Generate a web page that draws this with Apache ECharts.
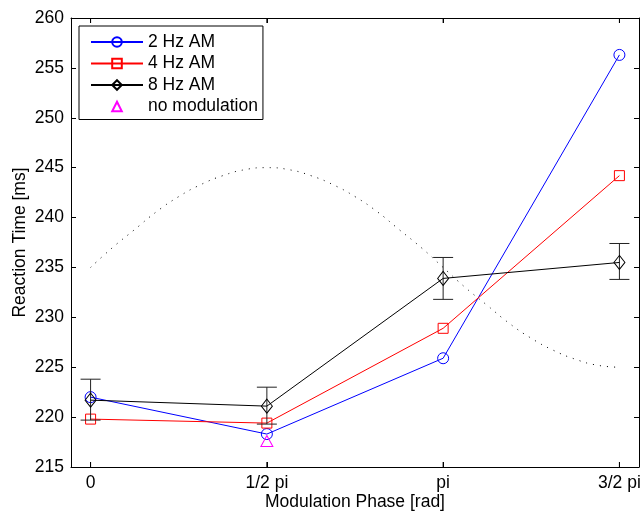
<!DOCTYPE html>
<html>
<head>
<meta charset="utf-8">
<script src="https://cdn.jsdelivr.net/npm/echarts@6/dist/echarts.min.js"></script>
<style>html,body{margin:0;padding:0;background:#fff}#c{width:644px;height:512px}</style>
</head>
<body>
<div id="c"></div>
<script>
// x positions in units of pi/2
const phaseLabels = ['0', '1/2 pi', 'pi', '3/2 pi'];
const phasePos = [0, 1, 2, 3];
const hz2 = [222.0, 218.3, 225.9, 256.3];
const hz4 = [219.8, 219.4, 228.9, 244.2];
const hz8 = [221.7, 221.1, 233.9, 235.5];
const hz8Low = [219.7, 219.3, 231.8, 233.8];
const hz8High = [223.8, 223.0, 236.0, 237.4];
const noModX = [1];
const noModY = [217.6];
// dotted reference curve (x in units of pi/2)
const refX = [0,0.125,0.25,0.375,0.5,0.625,0.75,0.875,1,1.125,1.25,1.375,1.5,1.625,1.75,1.875,2,2.125,2.25,2.375,2.5,2.625,2.75,2.875,3];
const refY = [235,237.0,238.8,240.6,242.1,243.3,244.2,244.8,245,244.8,244.2,243.3,242.1,240.6,238.8,237.0,235,233.0,231.2,229.4,227.9,226.7,225.8,225.2,225];
const yMin = 215, yMax = 260;

const font = 'Liberation Sans, Arial, Helvetica, sans-serif';
const fs = 17.5;
const zip = (xs, ys) => xs.map((x, i) => [x, ys[i]]);
const clear = 'rgba(0,0,0,0)';
const C2 = '#0000ff', C4 = '#ff0000', C8 = '#000000', CN = '#ff00ff';

const chart = echarts.init(document.getElementById('c'), null, {renderer: 'canvas'});
const xCommon = {
  type: 'value', min: -1/9, max: 3 + 1/9,
  axisLine: {show: true, onZero: false, lineStyle: {color: '#000', width: 1}},
  splitLine: {show: false}
};
const yCommon = {
  type: 'value', min: yMin, max: yMax, interval: 5,
  axisLine: {show: true, onZero: false, lineStyle: {color: '#000', width: 1}},
  axisTick: {show: true, inside: true, length: 5, lineStyle: {color: '#000'}},
  splitLine: {show: false}
};
chart.setOption({
  animation: false,
  backgroundColor: '#fff',
  grid: {left: 71, top: 18, width: 568, height: 449, containLabel: false, outerBoundsMode: 'none'},
  xAxis: [
    Object.assign({}, xCommon, {
      position: 'bottom',
      name: 'Modulation Phase [rad]', nameLocation: 'middle', nameGap: 26, nameMoveOverlap: false,
      nameTextStyle: {fontFamily: font, fontSize: fs, color: '#000'},
      axisTick: {show: true, inside: true, length: 5, customValues: phasePos, lineStyle: {color: '#000'}},
      axisLabel: {show: true, customValues: phasePos, margin: 7, fontFamily: font, fontSize: fs, color: '#000',
        formatter: v => phaseLabels[Math.round(v)]}
    }),
    Object.assign({}, xCommon, {
      position: 'top',
      axisTick: {show: true, inside: true, length: 5, customValues: phasePos, lineStyle: {color: '#000'}},
      axisLabel: {show: false}
    })
  ],
  yAxis: [
    Object.assign({}, yCommon, {
      position: 'left',
      name: 'Reaction Time [ms]', nameLocation: 'middle', nameGap: 42, nameRotate: 90, nameMoveOverlap: false,
      nameTextStyle: {fontFamily: font, fontSize: fs, color: '#000'},
      axisLabel: {margin: 7, fontFamily: font, fontSize: fs, color: '#000'}
    }),
    Object.assign({}, yCommon, {
      position: 'right',
      axisLabel: {show: false}
    })
  ],
  legend: {
    orient: 'vertical', left: 79, top: 26,
    padding: [7, 5, 4, 11], itemWidth: 52, itemHeight: 12, itemGap: 3.5,
    borderColor: '#000', borderWidth: 1, backgroundColor: '#fff',
    textStyle: {fontFamily: font, fontSize: fs, color: '#000'},
    data: ['2 Hz AM', '4 Hz AM', '8 Hz AM', 'no modulation']
  },
  series: [
    {
      name: 'ref', type: 'line', data: zip(refX, refY), smooth: true, symbol: 'none',
      lineStyle: {color: '#000', width: 1, type: [1, 6]}, silent: true, z: 1
    },
    {
      name: 'xticks', type: 'custom', z: 2, silent: true,
      data: phasePos.map(x => [x]),
      renderItem: function (params, api) {
        const x = api.value(0);
        const b = api.coord([x, yMin]);
        const t = api.coord([x, yMax]);
        const st = {stroke: '#000', lineWidth: 1};
        return {type: 'group', children: [
          {type: 'line', shape: {x1: b[0], y1: b[1], x2: b[0], y2: b[1] - 5}, style: st},
          {type: 'line', shape: {x1: t[0], y1: t[1], x2: t[0], y2: t[1] + 5}, style: st}
        ]};
      }
    },
    {
      name: '2 Hz AM', type: 'line', data: zip(phasePos, hz2), symbol: 'circle', symbolSize: 11,
      lineStyle: {color: C2, width: 1}, itemStyle: {color: clear, borderColor: C2, borderWidth: 1}, z: 3
    },
    {
      name: '4 Hz AM', type: 'line', data: zip(phasePos, hz4), symbol: 'rect', symbolSize: 10,
      lineStyle: {color: C4, width: 1}, itemStyle: {color: clear, borderColor: C4, borderWidth: 1}, z: 3
    },
    {
      name: '8 Hz AM', type: 'line', data: zip(phasePos, hz8), symbol: 'diamond', symbolSize: [11, 14],
      lineStyle: {color: C8, width: 1}, itemStyle: {color: clear, borderColor: C8, borderWidth: 1}, z: 4
    },
    {
      name: 'errbar', type: 'custom', z: 4, silent: true,
      data: phasePos.map((x, i) => [x, hz8Low[i], hz8High[i]]),
      renderItem: function (params, api) {
        const x = api.value(0);
        const lo = api.coord([x, api.value(1)]);
        const hi = api.coord([x, api.value(2)]);
        const hw = 10;
        const st = {stroke: '#222', lineWidth: 1};
        return {type: 'group', children: [
          {type: 'line', shape: {x1: lo[0], y1: lo[1], x2: hi[0], y2: hi[1]}, style: st},
          {type: 'line', shape: {x1: lo[0] - hw, y1: lo[1], x2: lo[0] + hw, y2: lo[1]}, style: st},
          {type: 'line', shape: {x1: hi[0] - hw, y1: hi[1], x2: hi[0] + hw, y2: hi[1]}, style: st}
        ]};
      }
    },
    {
      name: 'no modulation', type: 'line', data: zip(noModX, noModY), symbol: 'triangle', symbolSize: [12, 11],
      lineStyle: {color: clear, width: 0},
      itemStyle: {color: clear, borderColor: CN, borderWidth: 1}, z: 5
    }
  ]
});
</script>
</body>
</html>
